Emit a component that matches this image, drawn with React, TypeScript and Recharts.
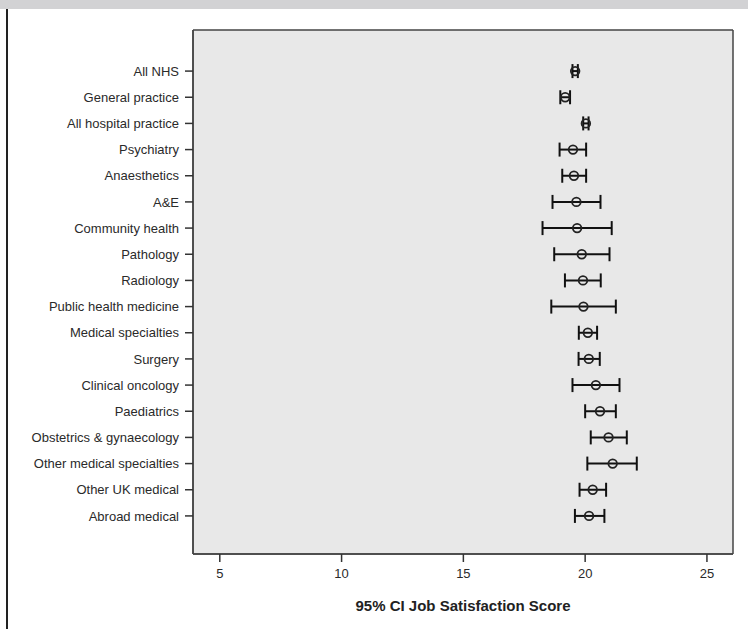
import React from 'react';
import { ScatterChart, Scatter, XAxis, YAxis, ErrorBar, CartesianGrid, Label } from 'recharts';

const groups = [
  'All NHS',
  'General practice',
  'All hospital practice',
  'Psychiatry',
  'Anaesthetics',
  'A&E',
  'Community health',
  'Pathology',
  'Radiology',
  'Public health medicine',
  'Medical specialties',
  'Surgery',
  'Clinical oncology',
  'Paediatrics',
  'Obstetrics & gynaecology',
  'Other medical specialties',
  'Other UK medical',
  'Abroad medical',
];

const means = [19.59, 19.18, 20.03, 19.5, 19.54, 19.64, 19.67, 19.86, 19.91, 19.93, 20.11, 20.15, 20.44, 20.61, 20.96, 21.13, 20.31, 20.16];
const lower = [19.48, 18.98, 19.92, 18.95, 19.06, 18.66, 18.25, 18.73, 19.17, 18.61, 19.74, 19.73, 19.48, 20.0, 20.23, 20.09, 19.77, 19.58];
const upper = [19.7, 19.38, 20.14, 20.04, 20.04, 20.63, 21.09, 21.0, 20.64, 21.26, 20.49, 20.6, 21.41, 21.26, 21.71, 22.12, 20.86, 20.79];

const xTicks = [5, 10, 15, 20, 25];
const xDomain = [3.9, 26.07];

const chartData = groups.map((name, i) => ({
  name,
  mean: means[i],
  err: [means[i] - lower[i], upper[i] - means[i]],
}));

const font = '"Liberation Sans", Arial, Helvetica, sans-serif';
const frame = { stroke: '#444', strokeWidth: 1.5 };

const OpenCircle = (props: any) => {
  const { cx, cy } = props;
  return <circle cx={cx} cy={cy} r={4.3} fill="none" stroke="#222" strokeWidth={1.8} />;
};

// grid lines only at the plot edges, to draw the box around the plot
const edgeRows = ({ offset }: any) => [offset.top, offset.top + offset.height];
const edgeCols = ({ offset }: any) => [offset.left, offset.left + offset.width];

export default function App() {
  return (
    <div style={{ position: 'absolute', left: 0, top: 0, width: 748, height: 629, background: '#fff', fontFamily: font }}>
      <ScatterChart width={748} height={629} margin={{ top: 30, right: 15, bottom: 0, left: 8 }}>
        <CartesianGrid
          fill="#e8e8e8"
          fillOpacity={1}
          stroke="#444"
          strokeWidth={1.5}
          horizontalCoordinatesGenerator={edgeRows}
          verticalCoordinatesGenerator={edgeCols}
        />
        <XAxis
          type="number"
          dataKey="mean"
          domain={xDomain}
          ticks={xTicks}
          allowDataOverflow
          height={75}
          tickSize={8}
          tickMargin={7}
          axisLine={frame}
          tickLine={{ stroke: '#333', strokeWidth: 1.5 }}
          tick={{ fill: '#2a2a2a', fontSize: 13, fontFamily: font }}
        >
          <Label
            value="95% CI Job Satisfaction Score"
            position="insideBottom"
            offset={18}
            style={{ fill: '#222', fontSize: 15, fontWeight: 'bold', fontFamily: font }}
          />
        </XAxis>
        <YAxis
          type="category"
          dataKey="name"
          reversed
          width={185}
          interval={0}
          padding={{ top: 28, bottom: 25 }}
          tickSize={8}
          tickMargin={6}
          axisLine={frame}
          tickLine={{ stroke: '#333', strokeWidth: 1.5 }}
          tick={{ fill: '#2a2a2a', fontSize: 13, fontFamily: font }}
        />
        <Scatter data={chartData} dataKey="mean" shape={OpenCircle} isAnimationActive={false}>
          <ErrorBar dataKey="err" direction="x" width={7} stroke="#111" strokeWidth={2} isAnimationActive={false} />
        </Scatter>
      </ScatterChart>
      <div style={{ position: 'absolute', left: 0, top: 0, width: 748, height: 9, background: '#d2d2d4' }} />
      <div style={{ position: 'absolute', left: 6, top: 9, width: 2, height: 620, background: '#222' }} />
    </div>
  );
}
